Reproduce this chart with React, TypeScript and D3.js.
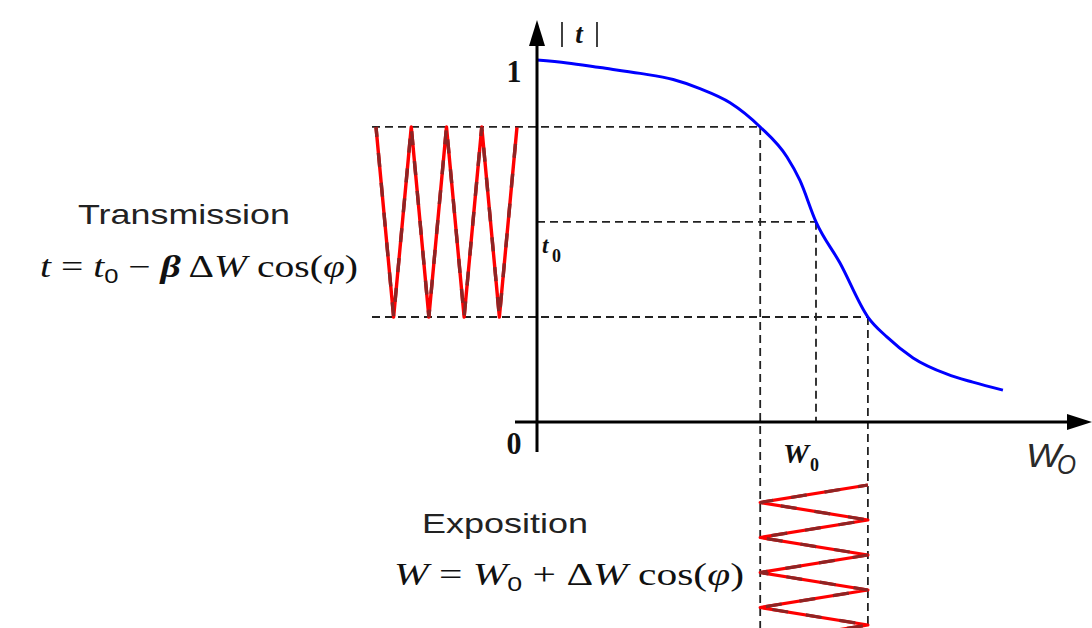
import React from "react";
import * as d3 from "d3";

// Transmission curve |t|(W): exposure W (arbitrary units) vs transmission
const curveW = [0, 5.4, 11.3, 18.5, 24.4, 29.2, 34.6, 40, 44.8, 47.1, 50, 54.3, 59.3, 62.7, 67.4, 73.5, 78.1, 83.5];
const curveT = [1.0, 0.992, 0.979, 0.963, 0.946, 0.921, 0.882, 0.815, 0.732, 0.668, 0.553, 0.439, 0.29, 0.235, 0.177, 0.132, 0.11, 0.088];

// Operating point and modulation extremes
const W0 = 50;
const wLow = 40;
const wHigh = 59.3;
const t0 = 0.553;
const tHigh = 0.815;
const tLow = 0.29;

// Extremes of the modulated signals, one per half period of phi
const transmissionExtremes = [tHigh, tLow, tHigh, tLow, tHigh, tLow, tHigh, tLow, tHigh];
const exposureExtremes = [wHigh, wLow, wHigh, wLow, wHigh, wLow, wHigh, wLow, wHigh, wLow];

const W = 1092;
const H = 628;

export default function App() {
  const x = d3.scaleLinear().domain([0, 100]).range([537, 1095]);
  const y = d3.scaleLinear().domain([0, 1]).range([422, 60]);
  // phase (half-period index) scales for the two waveforms
  const phiH = d3.scaleLinear().domain([0, 8]).range([376, 517]);
  const phiV = d3.scaleLinear().domain([0, 8]).range([485, 625]);

  const curvePts = curveW.map((w, i) => [w, curveT[i]] as [number, number]);
  const curvePath = d3
    .line<[number, number]>()
    .x((d) => x(d[0]))
    .y((d) => y(d[1]))
    .curve(d3.curveMonotoneX)(curvePts) as string;

  const tWavePath = d3
    .line<number>()
    .x((_, i) => phiH(i))
    .y((d) => y(d))
    .curve(d3.curveLinear)(transmissionExtremes) as string;

  const wWavePath = d3
    .line<number>()
    .x((d) => x(d))
    .y((_, i) => phiV(i))
    .curve(d3.curveLinear)(exposureExtremes) as string;

  const ox = x(0);
  const oy = y(0);
  const dash = "8 5";
  const dashColor = "#222";
  const serif = "'Liberation Serif', 'DejaVu Serif', serif";
  const sans = "'Liberation Sans', Arial, sans-serif";

  return (
    <svg
      width={W}
      height={H}
      viewBox={`0 0 ${W} ${H}`}
      style={{ position: "absolute", left: 0, top: 0, background: "#fff" }}
    >
      {/* guide lines */}
      <g stroke={dashColor} strokeWidth={1.8} strokeDasharray={dash} fill="none">
        <line x1={372} y1={y(tHigh)} x2={x(wLow)} y2={y(tHigh)} />
        <line x1={ox} y1={y(t0)} x2={x(W0)} y2={y(t0)} />
        <line x1={372} y1={y(tLow)} x2={x(wHigh)} y2={y(tLow)} />
        <line x1={x(wLow)} y1={y(tHigh)} x2={x(wLow)} y2={H} />
        <line x1={x(W0)} y1={y(t0)} x2={x(W0)} y2={oy} />
        <line x1={x(wHigh)} y1={y(tLow)} x2={x(wHigh)} y2={H} />
      </g>

      {/* modulated transmission */}
      <path d={tWavePath} fill="none" stroke="#ff0000" strokeWidth={3.4} strokeLinejoin="round" />
      <path d={tWavePath} fill="none" stroke="#8e2424" strokeWidth={3.4} strokeDasharray="14 16" strokeDashoffset={4} />

      {/* modulated exposure */}
      <path d={wWavePath} fill="none" stroke="#ff0000" strokeWidth={3.2} strokeLinejoin="round" />
      <path d={wWavePath} fill="none" stroke="#8e2424" strokeWidth={3.2} strokeDasharray="16 18" strokeDashoffset={6} />

      {/* transmission curve */}
      <path d={curvePath} fill="none" stroke="#0000ff" strokeWidth={3} />

      {/* axes */}
      <g stroke="#000" strokeWidth={3}>
        <line x1={ox} y1={452} x2={ox} y2={40} />
        <line x1={515} y1={oy} x2={1072} y2={oy} />
      </g>
      <path d={`M${ox},20 L${ox - 8},46 L${ox + 8},46 Z`} fill="#000" />
      <path d={`M1092,${oy} L1067,${oy - 8} L1067,${oy + 8} Z`} fill="#000" />

      {/* axis labels */}
      <g fontFamily={serif} fill="#111">
        <line x1={562} y1={22} x2={562} y2={47} stroke="#111" strokeWidth={1.6} />
        <line x1={597} y1={22} x2={597} y2={47} stroke="#111" strokeWidth={1.6} />
        <text x={579} y={43} fontSize={27} fontStyle="italic" fontWeight="bold" textAnchor="middle">t</text>
        <text x={514} y={82} fontSize={31} textAnchor="middle" fontWeight="bold" textLength={15} lengthAdjust="spacingAndGlyphs">1</text>
        <text x={514} y={454} fontSize={31} textAnchor="middle" fontWeight="bold" textLength={15} lengthAdjust="spacingAndGlyphs">0</text>
        <text x={542} y={253} fontSize={23} fontStyle="italic" fontWeight="bold">t</text>
        <text x={552} y={262} fontSize={18} fontWeight="bold">0</text>
        <text x={783} y={463} fontSize={27} fontStyle="italic" fontWeight="bold" textLength={26} lengthAdjust="spacingAndGlyphs">W</text>
        <text x={810} y={471} fontSize={18} fontWeight="bold">0</text>
      </g>
      <g fontFamily={sans} fill="#2a2a2a" fontStyle="italic">
        <text x={1026} y={467} fontSize={33} textLength={35} lengthAdjust="spacingAndGlyphs">W</text>
        <text x={1057} y={474} fontSize={28} textLength={19} lengthAdjust="spacingAndGlyphs">O</text>
      </g>

      {/* captions */}
      <text x={78} y={224} fontFamily={sans} fontSize={28} fill="#222" textLength={212} lengthAdjust="spacingAndGlyphs">
        Transmission
      </text>
      <text x={40} y={277} fontFamily={serif} fontSize={31} fill="#111" textLength={318} lengthAdjust="spacingAndGlyphs">
        <tspan fontStyle="italic">t</tspan>
        <tspan> = </tspan>
        <tspan fontStyle="italic">t</tspan>
        <tspan fontFamily={sans} fontSize={20} dy={6}>0</tspan>
        <tspan dy={-6}> − </tspan>
        <tspan fontStyle="italic" fontWeight="bold">β</tspan>
        <tspan> Δ</tspan>
        <tspan fontStyle="italic">W</tspan>
        <tspan> cos(</tspan>
        <tspan fontStyle="italic">φ</tspan>
        <tspan>)</tspan>
      </text>

      <text x={422} y={533} fontFamily={sans} fontSize={28} fill="#222" textLength={166} lengthAdjust="spacingAndGlyphs">
        Exposition
      </text>
      <text x={394} y={585} fontFamily={serif} fontSize={31} fill="#111" textLength={350} lengthAdjust="spacingAndGlyphs">
        <tspan fontStyle="italic">W</tspan>
        <tspan>  = </tspan>
        <tspan fontStyle="italic">W</tspan>
        <tspan fontFamily={sans} fontSize={20} dy={6}>0</tspan>
        <tspan dy={-6}> + Δ</tspan>
        <tspan fontStyle="italic">W</tspan>
        <tspan>  cos(</tspan>
        <tspan fontStyle="italic">φ</tspan>
        <tspan>)</tspan>
      </text>
    </svg>
  );
}
